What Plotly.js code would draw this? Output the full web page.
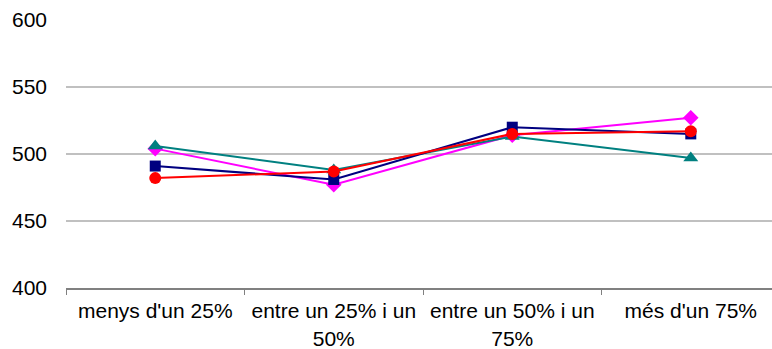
<!DOCTYPE html>
<html>
<head>
<meta charset="utf-8">
<script src="https://cdn.plot.ly/plotly-3.0.1.min.js"></script>
<style>html,body{margin:0;padding:0;background:#fff;}#chart{width:772px;height:349px;}</style>
</head>
<body>
<div id="chart"></div>
<script>
var categories = ["menys d'un 25%", "entre un 25% i un 50%", "entre un 50% i un 75%", "més d'un 75%"];
var tickLabels = ["menys d'un 25%", "entre un 25% i un<br>50%", "entre un 50% i un<br>75%", "més d'un 75%"];
var seriesTeal = [506, 488, 513, 497];
var seriesMagenta = [504, 477, 514, 527];
var seriesNavy = [491, 481, 520, 515];
var seriesRed = [482, 487, 515, 517];
var yTicks = [400, 450, 500, 550, 600];

function tr(y, color, symbol, size) {
  return {x: categories, y: y, type: 'scatter', mode: 'lines+markers',
    line: {color: color, width: 2},
    marker: {color: color, symbol: symbol, size: size, line: {width: 0}},
    showlegend: false, hoverinfo: 'none'};
}
var data = [
  tr(seriesMagenta, '#FF00FF', 'diamond', 12),
  tr(seriesTeal, '#008080', 'triangle-up', 13),
  tr(seriesNavy, '#000080', 'square', 11),
  tr(seriesRed, '#FF0000', 'circle', 12)
];
var layout = {
  width: 772, height: 349,
  margin: {l: 66, r: 0, t: 20, b: 61},
  paper_bgcolor: '#fff', plot_bgcolor: '#fff',
  font: {family: 'Liberation Sans, Arial, sans-serif', size: 21, color: '#000'},
  xaxis: {type: 'category', categoryarray: categories, range: [-0.5, 3.455],
    tickvals: categories, ticktext: tickLabels, tickson: 'boundaries',
    ticks: 'outside', ticklen: 5, tickcolor: '#808080', tickwidth: 1,
    showline: true, linecolor: '#808080', linewidth: 2, showgrid: false,
    ticklabelstandoff: 3, tickfont: {size: 21}},
  yaxis: {range: [400, 600], tickvals: yTicks, showgrid: true, gridcolor: '#c0c0c0', gridwidth: 2,
    zeroline: false, showline: false, ticks: '', ticklabelstandoff: 18, tickfont: {size: 21}}
};
Plotly.newPlot('chart', data, layout, {displayModeBar: false, staticPlot: true});
</script>
</body>
</html>
